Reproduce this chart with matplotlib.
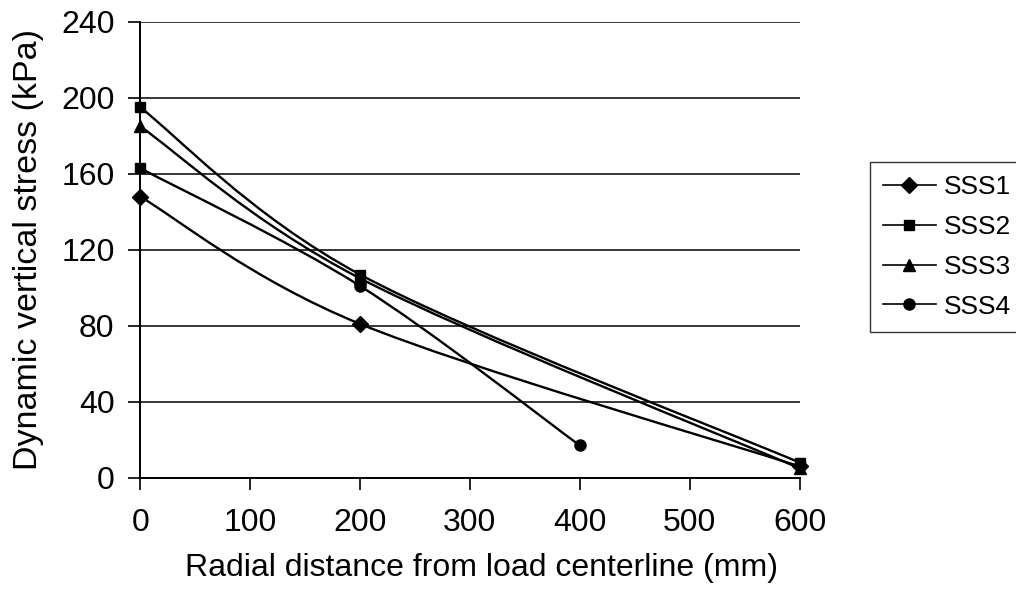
import numpy as np
import matplotlib.pyplot as plt
from matplotlib.path import Path
from matplotlib import patches

plt.rcParams['font.family'] = ['Liberation Sans', 'DejaVu Sans']

# data
sss1_x = [0, 200, 600]
sss1_y = [148, 81, 6]
sss2_x = [0, 200, 600]
sss2_y = [195, 107, 8]
sss3_x = [0, 200, 600]
sss3_y = [185, 105, 5]
sss4_x = [0, 200, 400]
sss4_y = [163, 101, 17]

x_ticks = [0, 100, 200, 300, 400, 500, 600]
y_ticks = [0, 40, 80, 120, 160, 200, 240]


def smooth_path(xs, ys):
    # Excel style smoothed line: bezier segments through the points
    pts = np.column_stack([xs, ys]).astype(float)
    n = len(pts)
    verts = [pts[0]]
    codes = [Path.MOVETO]
    for i in range(n - 1):
        p_prev = pts[max(i - 1, 0)]
        p0 = pts[i]
        p1 = pts[i + 1]
        p_next = pts[min(i + 2, n - 1)]
        c1 = p0 + (p1 - p_prev) / 6.0
        c2 = p1 - (p_next - p0) / 6.0
        verts += [c1, c2, p1]
        codes += [Path.CURVE4] * 3
    return Path(verts, codes)


fig = plt.figure(figsize=(10.16, 5.92), dpi=100)
ax = fig.add_axes([0.138, 0.193, 0.649, 0.770])

series = [
    ('SSS1', sss1_x, sss1_y, 'D', 8),
    ('SSS2', sss2_x, sss2_y, 's', 7.5),
    ('SSS3', sss3_x, sss3_y, '^', 9),
    ('SSS4', sss4_x, sss4_y, 'o', 8),
]

handles = []
for name, xs, ys, mk, ms in series:
    ax.add_patch(patches.PathPatch(smooth_path(xs, ys), fill=False,
                                   edgecolor='black', lw=1.7, zorder=3,
                                   transform=ax.transData))
    start = 1 if name == 'SSS4' else 0
    ax.plot(xs[start:], ys[start:], ls='none', marker=mk, ms=ms,
            color='black', zorder=4, clip_on=False)
    h, = ax.plot([], [], '-', marker=mk, ms=ms, color='black', lw=1.2)
    handles.append(h)

# first SSS4 point shows a square marker in the original
ax.plot(sss4_x[0], sss4_y[0], ls='none', marker='s', ms=7.5, color='black',
        zorder=4, clip_on=False)

ax.set_xlim(0, 600)
ax.set_ylim(0, 240)
ax.set_xticks(x_ticks)
ax.set_yticks(y_ticks)
ax.tick_params(direction='out', length=8.5, width=1.2, labelsize=23, colors='black')
ax.tick_params(axis='x', pad=13)
ax.tick_params(axis='y', pad=10)

ax.yaxis.grid(True, color='black', lw=1.1)
ax.set_axisbelow(True)
ax.spines['top'].set_visible(False)
ax.spines['right'].set_visible(False)
ax.spines['left'].set_linewidth(1.4)
ax.spines['bottom'].set_linewidth(1.4)

ax.set_xlabel('Radial distance from load centerline (mm)', fontsize=23)
ax.xaxis.set_label_coords(0.517, -0.165)
ax.set_ylabel('Dynamic vertical stress (kPa)', fontsize=24.5, labelpad=12)

leg = fig.legend(handles, [s[0] for s in series], loc='center left',
                 bbox_to_anchor=(0.856, 0.583), fontsize=19, frameon=True,
                 fancybox=False, edgecolor='black', handlelength=2.0,
                 handletextpad=0.3, labelspacing=0.6, borderpad=0.5,
                 borderaxespad=0)
leg.get_frame().set_linewidth(1)

fig.savefig('out.png', dpi=100)
